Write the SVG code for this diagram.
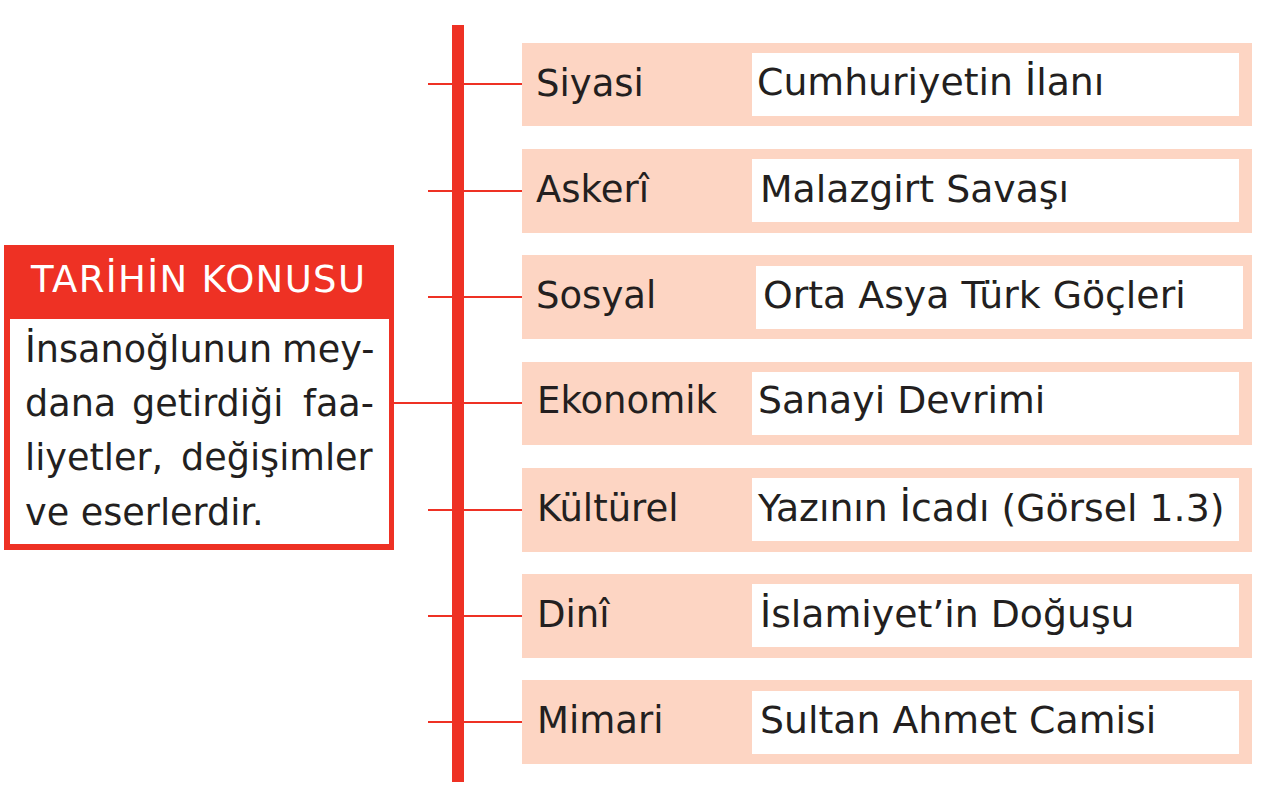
<svg xmlns="http://www.w3.org/2000/svg" width="1271" height="800" viewBox="0 0 1271 800">
<style>
.peach{fill:#fdd5c3}
.white{fill:#ffffff}
.lbl{font-family:"DejaVu Sans",Verdana,sans-serif;font-size:37px;fill:#231f20}
.val{font-family:"DejaVu Sans",Verdana,sans-serif;font-size:37.8px;fill:#231f20}
.body{font-family:"DejaVu Sans",Verdana,sans-serif;font-size:36.6px;fill:#231f20}
.head{font-family:"DejaVu Sans",Verdana,sans-serif;font-size:37px;fill:#ffffff}
.conn{stroke:#ee3124;stroke-width:2;fill:none}
</style>
<rect width="1271" height="800" fill="#ffffff"/>
<g id="connectors">
<rect x="452" y="25" width="12" height="757" fill="#ee3124"/>
<line class="conn" x1="428" y1="84" x2="522" y2="84"/>
<line class="conn" x1="428" y1="191" x2="522" y2="191"/>
<line class="conn" x1="428" y1="297" x2="522" y2="297"/>
<line class="conn" x1="394" y1="403" x2="522" y2="403"/>
<line class="conn" x1="428" y1="510" x2="522" y2="510"/>
<line class="conn" x1="428" y1="616" x2="522" y2="616"/>
<line class="conn" x1="428" y1="722" x2="522" y2="722"/>
</g>
<g id="main">
<rect x="4" y="245" width="390" height="305" fill="#ee3124"/>
<rect x="10" y="319" width="379" height="225" fill="#ffffff"/>
<text class="head" x="31" y="292" textLength="334" lengthAdjust="spacing">TARİHİN KONUSU</text>
<text class="body" y="362"><tspan x="25">İnsanoğlunun</tspan><tspan x="282">mey-</tspan></text>
<text class="body" y="416"><tspan x="25">dana</tspan><tspan x="132">getirdiği</tspan><tspan x="303">faa-</tspan></text>
<text class="body" y="470"><tspan x="25">liyetler,</tspan><tspan x="181">değişimler</tspan></text>
<text class="body" x="25" y="525">ve eserlerdir.</text>
</g>
<g id="siyasi">
<rect class="peach" x="522" y="43" width="730" height="83"/>
<rect class="white" x="752" y="53" width="487" height="63"/>
<text class="lbl" x="536" y="96">Siyasi</text>
<text class="val" x="757" y="95">Cumhuriyetin İlanı</text>
</g>
<g id="askeri">
<rect class="peach" x="522" y="149" width="730" height="84"/>
<rect class="white" x="752" y="159" width="487" height="63"/>
<text class="lbl" x="536" y="202">Askerî</text>
<text class="val" x="760" y="202">Malazgirt Savaşı</text>
</g>
<g id="sosyal">
<rect class="peach" x="522" y="255" width="730" height="84"/>
<rect class="white" x="756" y="266" width="487" height="63"/>
<text class="lbl" x="536" y="308">Sosyal</text>
<text class="val" x="763" y="308">Orta Asya Türk Göçleri</text>
</g>
<g id="ekonomik">
<rect class="peach" x="522" y="362" width="730" height="83"/>
<rect class="white" x="752" y="372" width="487" height="63"/>
<text class="lbl" x="537" y="413">Ekonomik</text>
<text class="val" x="758" y="413">Sanayi Devrimi</text>
</g>
<g id="kulturel">
<rect class="peach" x="522" y="468" width="730" height="84"/>
<rect class="white" x="752" y="478" width="487" height="63"/>
<text class="lbl" x="537" y="521">Kültürel</text>
<text class="val" x="758" y="521">Yazının İcadı (Görsel 1.3)</text>
</g>
<g id="dini">
<rect class="peach" x="522" y="574" width="730" height="84"/>
<rect class="white" x="752" y="584" width="487" height="63"/>
<text class="lbl" x="537" y="627">Dinî</text>
<text class="val" x="760" y="627">İslamiyet’in Doğuşu</text>
</g>
<g id="mimari">
<rect class="peach" x="522" y="680" width="730" height="84"/>
<rect class="white" x="752" y="691" width="487" height="63"/>
<text class="lbl" x="537" y="733">Mimari</text>
<text class="val" x="760" y="733">Sultan Ahmet Camisi</text>
</g>
</svg>
